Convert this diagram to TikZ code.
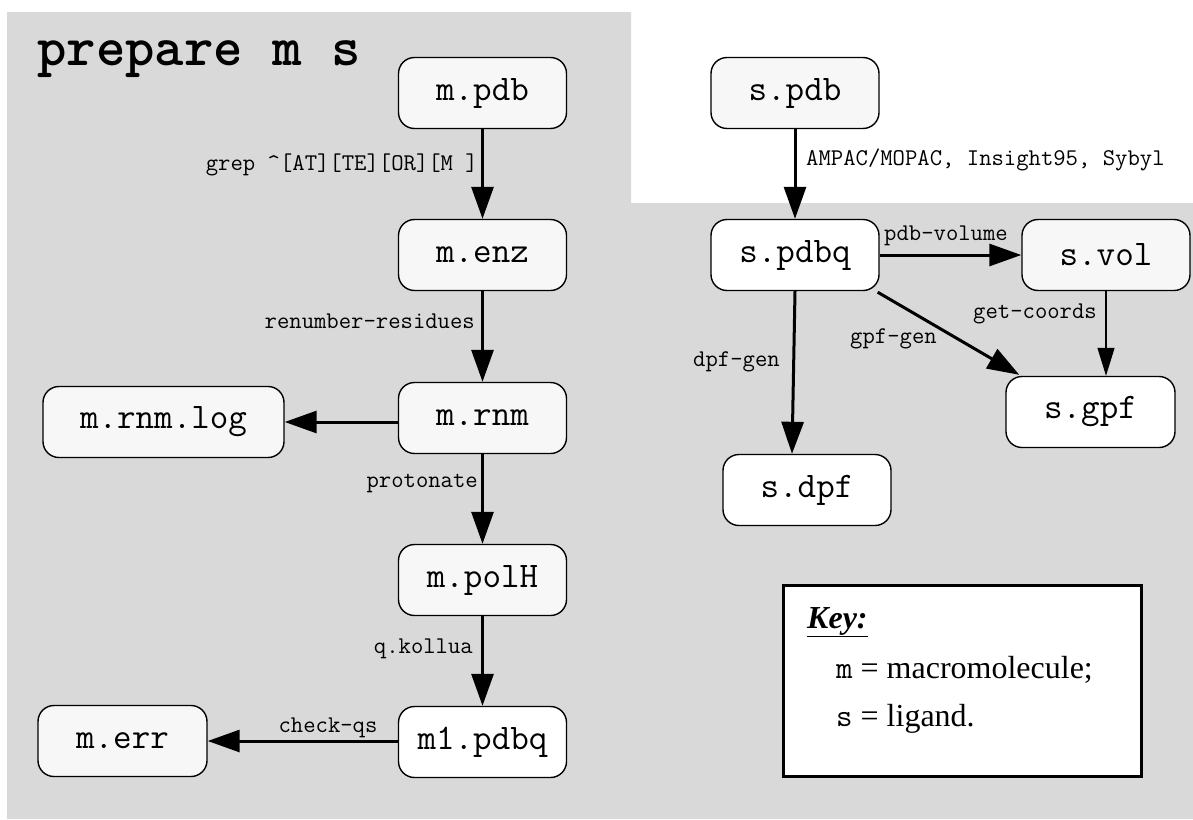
\documentclass[tikz,border=0pt]{standalone}
\usepackage{fontspec}
\setmainfont{Liberation Serif}
\usetikzlibrary{arrows.meta}
\definecolor{bggray}{HTML}{D9D9D9}
\definecolor{nodegray}{HTML}{F7F7F7}
\tikzset{
  filebox/.style={draw, line width=1.4pt, rounded corners=16pt, fill=nodegray,
    minimum width=168pt, minimum height=71pt, inner sep=0pt,
    font=\ttfamily\fontsize{36}{40}\selectfont},
  whitebox/.style={filebox, fill=white},
  arr/.style={-{Triangle[length=32pt,width=22pt]}, line width=3pt},
  thinarr/.style={-{Triangle[length=28pt,width=17pt]}, line width=1.3pt},
  lbl/.style={inner sep=0pt, font=\ttfamily\fontsize{24}{28}\selectfont},
  keytxt/.style={inner sep=0pt, font=\fontsize{32}{36}\selectfont},
}
\begin{document}
\begin{tikzpicture}[x=1pt,y=-1pt]
\useasboundingbox (0,0) rectangle (1193,819);
\fill[white] (0,0) rectangle (1193,819);
\fill[bggray] (7,12) -- (631,12) -- (631,203) -- (1193,203) -- (1193,819) -- (7,819) -- cycle;

\node[inner sep=0pt, anchor=base west, font=\ttfamily\bfseries\fontsize{56}{60}\selectfont] (title) at (37,65) {prepare m s};

% macromolecule column
\node[filebox] (mpdb) at (482.5,93) {m.pdb};
\node[filebox] (menz) at (482.5,255) {m.enz};
\node[filebox] (mrnm) at (482.5,418) {m.rnm};
\node[filebox, minimum width=241pt] (mrnmlog) at (163.5,422) {m.rnm.log};
\node[filebox] (mpolh) at (482.5,580) {m.polH};
\node[whitebox] (mone) at (482.5,742) {m1.pdbq};
\node[filebox, minimum width=169pt] (merr) at (122.5,741) {m.err};

% ligand column
\node[filebox] (spdb) at (795,93) {s.pdb};
\node[whitebox] (spdbq) at (795,255) {s.pdbq};
\node[filebox] (svol) at (1106,255) {s.vol};
\node[whitebox, minimum width=169pt] (sgpf) at (1090.5,412) {s.gpf};
\node[whitebox] (sdpf) at (807,490) {s.dpf};

% connectors
\draw[arr] (mpdb) -- (menz);
\draw[arr] (menz) -- (mrnm);
\draw[arr] (mrnm.west |- mrnmlog.east) -- (mrnmlog.east);
\draw[arr] (mrnm) -- (mpolh);
\draw[arr] (mpolh) -- (mone);
\draw[arr] (mone.west |- merr.east) -- (merr.east);
\draw[arr] (spdb) -- (spdbq);
\draw[arr] (spdbq) -- (svol);
\draw[arr] (spdbq.south) -- ([xshift=-15pt]sdpf.north);
\draw[arr] ([xshift=-2pt,yshift=-1pt]spdbq.south east) -- ([xshift=14pt,yshift=1pt]sgpf.north west);
\draw[thinarr] (svol.south) -- (svol.south |- sgpf.north);

% labels
\node[lbl, anchor=base east] (l1) at (478,170) {grep \textasciicircum[AT][TE][OR][M ]};
\node[lbl, anchor=base east] (l2) at (475,328) {renumber-residues};
\node[lbl, anchor=base east] (l3) at (478,487) {protonate};
\node[lbl, anchor=base east] (l4) at (473,653) {q.kollua};
\node[lbl, anchor=base] (l5) at (328,732) {check-qs};
\node[lbl, anchor=base west] (l6) at (806,165) {AMPAC/MOPAC, Insight95, Sybyl};
\node[lbl, anchor=base west] (l7) at (884,240) {pdb-volume};
\node[lbl, anchor=base west] (l8) at (973,318) {get-coords};
\node[lbl, anchor=base west] (l9) at (850,343) {gpf-gen};
\node[lbl, anchor=base west] (l10) at (693,366) {dpf-gen};

% key
\node[draw, fill=white, line width=3pt, minimum width=358pt, minimum height=191pt, inner sep=0pt] (key) at (962.5,681) {};
\node[keytxt, anchor=base west] (k1) at (807,628) {\underline{\textbf{\textit{Key:}}}};
\node[keytxt, anchor=base west] (k2) at (836,678) {\texttt{m} = macromolecule;};
\node[keytxt, anchor=base west] (k3) at (836,726) {\texttt{s} = ligand.};
\end{tikzpicture}
\end{document}
